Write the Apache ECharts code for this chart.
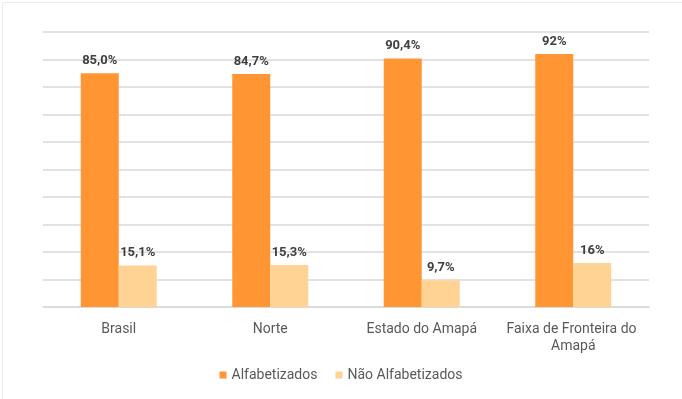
<!DOCTYPE html>
<html>
<head>
<meta charset="utf-8">
<script src="https://cdn.jsdelivr.net/npm/echarts@6/dist/echarts.min.js"></script>
<style>
  html, body { margin: 0; padding: 0; background: #fff; }
  #chart { width: 682px; height: 399px; }
</style>
</head>
<body>
<div id="chart"></div>
<script>
// categorias e valores (% da população)
var categorias = ['Brasil', 'Norte', 'Estado do Amapá', 'Faixa de Fronteira do Amapá'];
var alfabetizados = [85.0, 84.7, 90.4, 92];
var naoAlfabetizados = [15.1, 15.3, 9.7, 16];
var rotulosAlfa = ['85,0%', '84,7%', '90,4%', '92%'];
var rotulosNaoAlfa = ['15,1%', '15,3%', '9,7%', '16%'];
var nomesSeries = ['Alfabetizados', 'Não Alfabetizados'];

var fonte = 'Roboto, "Noto Sans", sans-serif';

var chart = echarts.init(document.getElementById('chart'));

function rotulo(lista) {
  return {
    show: true,
    position: 'top',
    distance: 6,
    color: '#404040',
    fontFamily: fonte,
    fontWeight: 'bold',
    fontSize: 13,
    formatter: function (p) { return lista[p.dataIndex]; }
  };
}

var option = {
  animation: false,
  backgroundColor: '#fff',
  graphic: [{
    type: 'rect',
    left: 0, top: 0,
    shape: { x: 0.5, y: 0.5, width: 681, height: 398 },
    style: { fill: 'none', stroke: '#ececec', lineWidth: 1 },
    silent: true
  }],
  grid: {
    left: 43,
    right: 33,
    top: 32,
    bottom: 92
  },
  legend: {
    data: nomesSeries,
    bottom: 12,
    left: 'center',
    itemWidth: 7,
    itemHeight: 7,
    itemGap: 18,
    icon: 'rect',
    textStyle: { color: '#595959', fontSize: 14, fontFamily: fonte }
  },
  xAxis: {
    type: 'category',
    data: categorias,
    axisLine: { lineStyle: { color: '#d9d9d9', width: 1.5 } },
    axisTick: { show: false },
    axisLabel: {
      color: '#595959',
      fontSize: 14,
      fontFamily: fonte,
      margin: 14,
      width: 170,
      overflow: 'break',
      lineHeight: 17,
      interval: 0
    }
  },
  yAxis: {
    type: 'value',
    min: 0,
    max: 100,
    interval: 10,
    axisLabel: { show: false },
    axisLine: { show: false },
    axisTick: { show: false },
    splitLine: { lineStyle: { color: '#d9d9d9', width: 1.5 } }
  },
  series: [
    {
      name: nomesSeries[0],
      type: 'bar',
      data: alfabetizados,
      barWidth: 38,
      barGap: '0%',
      itemStyle: { color: '#ff9633' },
      label: rotulo(rotulosAlfa)
    },
    {
      name: nomesSeries[1],
      type: 'bar',
      data: naoAlfabetizados,
      barWidth: 38,
      barGap: '0%',
      itemStyle: { color: '#ffd394' },
      label: rotulo(rotulosNaoAlfa)
    }
  ]
};

chart.setOption(option);
</script>
</body>
</html>
